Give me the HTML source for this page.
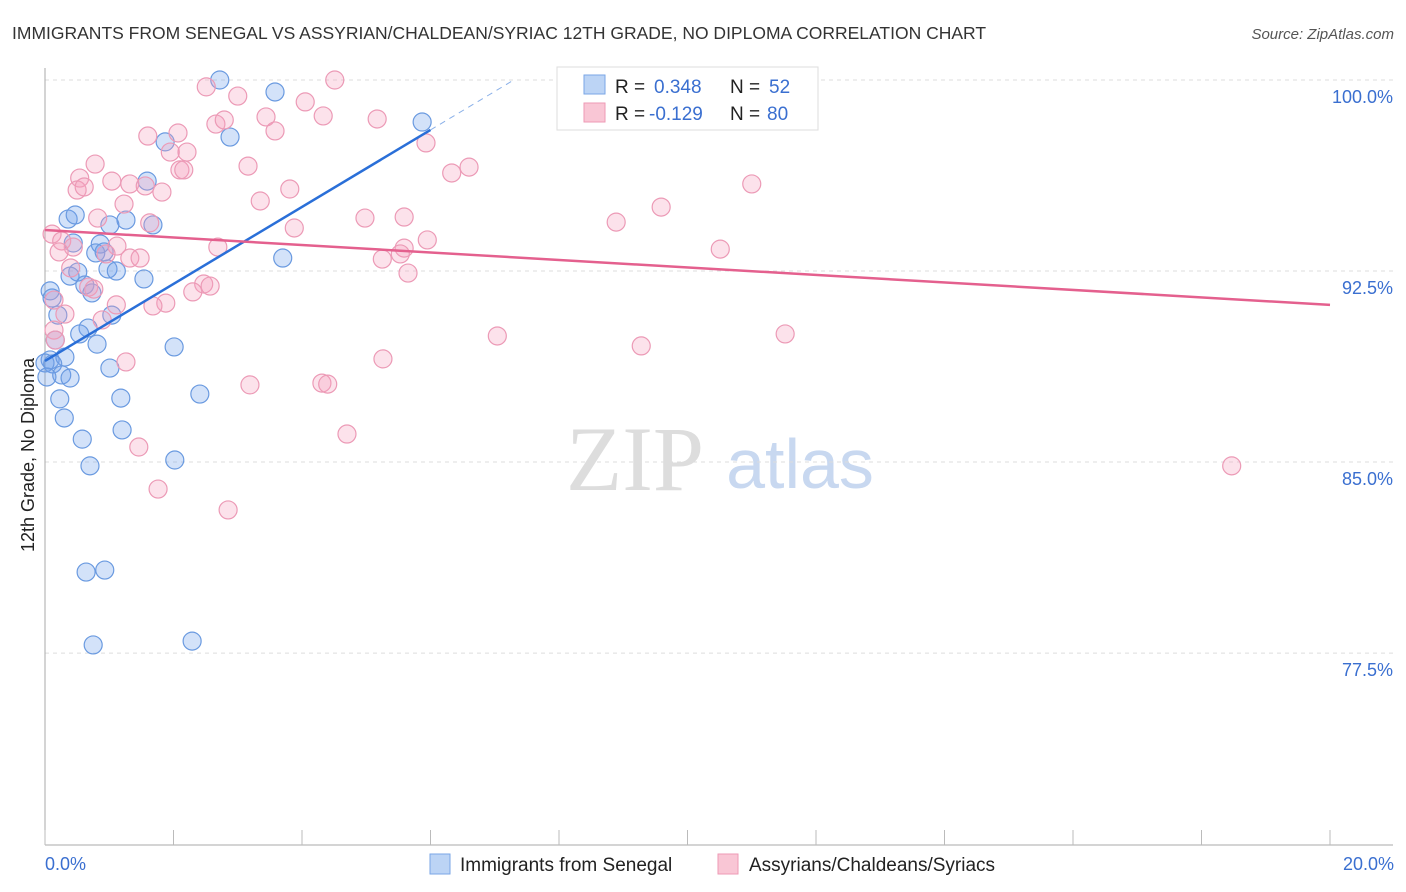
<!DOCTYPE html>
<html><head><meta charset="utf-8"><style>
body{margin:0;background:#fff;font-family:"Liberation Sans",sans-serif;}
svg{display:block}
</style></head><body>
<svg id="chart" width="1406" height="892" xmlns="http://www.w3.org/2000/svg">
<text x="12" y="39" font-size="17.5" fill="#333">IMMIGRANTS FROM SENEGAL VS ASSYRIAN/CHALDEAN/SYRIAC 12TH GRADE, NO DIPLOMA CORRELATION CHART</text>
<text x="1394" y="39" font-size="15" font-style="italic" fill="#555" text-anchor="end">Source: ZipAtlas.com</text>
<g>
<text x="635" y="490" font-family="Liberation Serif,serif" font-size="92" fill="#ddd" text-anchor="middle">ZIP</text>
<text x="800" y="488" font-size="70" fill="#c8d8f0" text-anchor="middle">atlas</text>
</g>
<g id="grid"></g>
<g id="axes"></g>
<g id="pts"></g>
<g id="trends"></g>
<text transform="translate(34,455) rotate(-90)" font-size="18" fill="#222" text-anchor="middle">12th Grade, No Diploma</text>
<text x="45" y="870" font-size="18" fill="#3a6fd0">0.0%</text>
<text x="1394" y="870" font-size="18" fill="#3a6fd0" text-anchor="end">20.0%</text>
<g>
<rect x="557" y="67" width="261" height="63" fill="#fff" stroke="#ddd"/>
<rect x="584" y="75" width="21" height="19" fill="#bcd4f5" stroke="#7aa6e6"/>
<rect x="584" y="103" width="21" height="19" fill="#f9c6d5" stroke="#ee9ab5"/>
<text x="615" y="93" font-size="19" fill="#222">R = </text><text x="654" y="93" font-size="19" fill="#3a6fd0">0.348</text>
<text x="730" y="93" font-size="19" fill="#222">N = </text><text x="769" y="93" font-size="19" fill="#3a6fd0">52</text>
<text x="615" y="120" font-size="19" fill="#222">R = </text><text x="649" y="120" font-size="19" fill="#3a6fd0">-0.129</text>
<text x="730" y="120" font-size="19" fill="#222">N = </text><text x="767" y="120" font-size="19" fill="#3a6fd0">80</text>
</g>
<g>
<rect x="430" y="854" width="20" height="20" fill="#bcd4f5" stroke="#7aa6e6"/>
<text x="460" y="871" font-size="19" fill="#222">Immigrants from Senegal</text></g>
<g>
<rect x="718" y="854" width="20" height="20" fill="#f9c6d5" stroke="#ee9ab5"/>
<text x="749" y="871" font-size="19" fill="#222">Assyrians/Chaldeans/Syriacs</text></g>
</svg>
<script>
const yTicks=[100,92.5,85,77.5];
const yTickLabels=["100.0%","92.5%","85.0%","77.5%"];
const xTicks=[0,2,4,6,8,10,12,14,16,18,20];
const blueX=[2.72,3.58,5.87,1.87,2.88,1.59,0.36,0.47,1.26,1.01,1.68,0.44,0.86,0.79,0.92,3.70,0.51,0.39,0.98,1.11,1.54,0.62,0.73,0.08,0.11,1.04,0.20,0.67,0.54,0.16,0.81,2.01,0.08,0.31,0.0,0.12,1.01,0.26,0.39,0.03,0.23,1.18,2.41,0.30,0.58,1.20,2.02,0.70,0.64,0.93,0.75,2.29];
const blueY=[100,99.53,98.35,97.57,97.76,96.03,94.54,94.70,94.50,94.31,94.31,93.60,93.56,93.21,93.25,93.01,92.46,92.30,92.58,92.50,92.19,91.95,91.64,91.72,91.44,90.77,90.77,90.26,90.03,89.79,89.63,89.52,89.01,89.12,88.89,88.85,88.69,88.42,88.30,88.34,87.48,87.51,87.67,86.73,85.90,86.26,85.08,84.85,80.68,80.76,77.82,77.97];
const pinkX=[4.51,2.51,3.00,4.05,5.17,3.44,4.33,2.66,2.79,3.58,1.60,2.07,5.93,1.95,2.21,0.78,3.16,6.60,6.33,2.10,2.16,0.54,1.04,1.32,1.56,11.00,0.50,0.61,1.82,3.35,3.81,1.23,9.59,8.89,0.82,1.63,4.98,5.59,3.88,0.11,0.26,0.44,5.95,1.12,2.69,5.59,10.51,0.22,0.95,5.53,1.32,1.48,5.25,5.65,0.40,0.68,2.47,2.57,2.30,0.76,0.14,1.88,1.68,1.11,0.31,0.89,0.14,7.04,9.28,11.52,0.16,1.26,5.26,3.19,4.31,4.40,1.46,4.70,1.76,2.85,18.47];
const pinkY=[100,99.73,99.37,99.14,98.47,98.55,98.59,98.27,98.43,98.00,97.80,97.92,97.53,97.17,97.17,96.70,96.62,96.58,96.35,96.47,96.47,96.15,96.03,95.92,95.84,95.92,95.68,95.80,95.60,95.25,95.72,95.13,95.01,94.42,94.58,94.39,94.58,94.62,94.19,93.95,93.68,93.44,93.72,93.48,93.44,93.40,93.36,93.25,93.17,93.17,93.01,93.01,92.97,92.42,92.62,91.87,91.99,91.91,91.68,91.79,91.36,91.24,91.13,91.17,90.81,90.58,90.18,89.95,89.56,90.03,89.79,88.93,89.05,88.03,88.10,88.06,85.59,86.10,83.94,83.12,84.85];
const blueTrend=[88.97,98.04]; // at x=0 and x=6
const blueTrendX=[0,6,7.3];
const pinkTrend=[94.11,91.17]; // at x=0 and x=20
const NS="http://www.w3.org/2000/svg";
const X=v=>45+v*64.25;
const Y=v=>80+(100-v)*25.47;
function mk(tag,attrs,parent){const e=document.createElementNS(NS,tag);for(const k in attrs)e.setAttribute(k,attrs[k]);parent.appendChild(e);return e;}
const grid=document.getElementById('grid'),axes=document.getElementById('axes'),pts=document.getElementById('pts'),tr=document.getElementById('trends');
yTicks.forEach((t,i)=>{
 const l=mk('line',{x1:45,x2:1393,y1:Y(t),y2:Y(t),stroke:'#ddd','stroke-dasharray':'4,4'},grid);
 
 
 const tx=mk('text',{x:1393,y:Y(t)+23,'font-size':18,fill:'#3a6fd0','text-anchor':'end'},grid);
 tx.textContent=yTickLabels[i];
 
 
});
const ya=mk('line',{x1:45,x2:45,y1:68,y2:845,stroke:'#aaa'},axes);


const xa=mk('line',{x1:45,x2:1393,y1:845,y2:845,stroke:'#aaa'},axes);


xTicks.forEach(t=>{
 const l=mk('line',{x1:X(t),x2:X(t),y1:830,y2:845,stroke:'#bbb'},axes);
 
 
});
blueX.forEach((v,i)=>{
 const c=mk('circle',{cx:X(v),cy:Y(blueY[i]),r:9,fill:'rgba(110,160,235,0.3)',stroke:'#6a9ae0','stroke-width':1.2},pts);
 
 
});
pinkX.forEach((v,i)=>{
 const c=mk('circle',{cx:X(v),cy:Y(pinkY[i]),r:9,fill:'rgba(245,160,190,0.3)',stroke:'#ec9ab6','stroke-width':1.2},pts);
 
 
});
const slope=(blueTrend[1]-blueTrend[0])/(blueTrendX[1]-blueTrendX[0]);
const bl=mk('line',{x1:X(0),y1:Y(blueTrend[0]),x2:X(blueTrendX[1]),y2:Y(blueTrend[1]),stroke:'#2a6fd8','stroke-width':2.5},tr);


const bd=mk('line',{x1:X(blueTrendX[1]),y1:Y(blueTrend[1]),x2:X(blueTrendX[2]),y2:Y(blueTrend[0]+slope*blueTrendX[2]),stroke:'#8ab0e8','stroke-width':1,'stroke-dasharray':'6,5'},tr);


const pl=mk('line',{x1:X(0),y1:Y(pinkTrend[0]),x2:X(20),y2:Y(pinkTrend[1]),stroke:'#e4608e','stroke-width':2.5},tr);


</script>
</body></html>
